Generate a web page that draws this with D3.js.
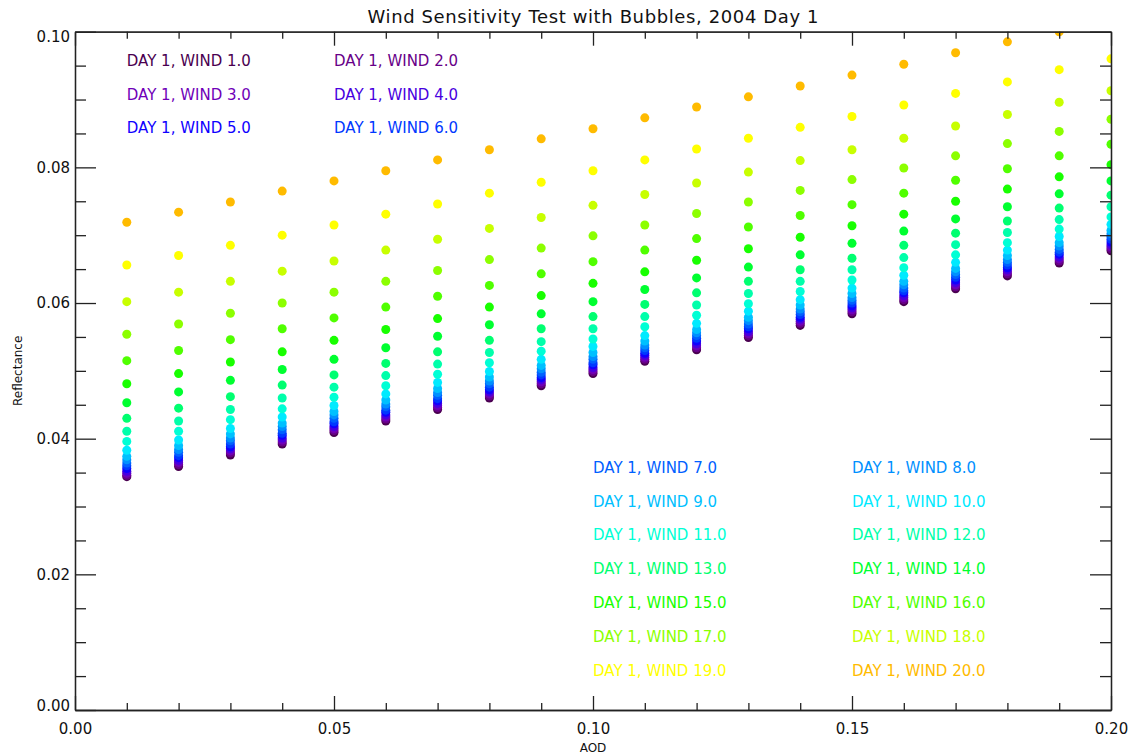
<!DOCTYPE html>
<html><head><meta charset="utf-8">
<script src="https://cdn.jsdelivr.net/npm/d3@7"></script>
<style>
body{margin:0;background:#fff;}
svg{display:block;}
text{font-family:"DejaVu Sans",sans-serif;}
</style>
</head><body>
<svg id="chart" width="1131" height="756"></svg>
<script>
const aod = [0.01,0.02,0.03,0.04,0.05,0.06,0.07,0.08,0.09,0.10,0.11,0.12,0.13,0.14,0.15,0.16,0.17,0.18,0.19,0.20];
const windSpeeds = [1,2,3,4,5,6,7,8,9,10,11,12,13,14,15,16,17,18,19,20];

const refl_w01 = [0.0344,0.0359,0.0376,0.0392,0.0409,0.0426,0.0443,0.0460,0.0478,0.0496,0.0514,0.0531,0.0549,0.0567,0.0584,0.0602,0.0621,0.0640,0.0659,0.0677];
const refl_w02 = [0.0346,0.0362,0.0379,0.0395,0.0412,0.0429,0.0446,0.0463,0.0481,0.0499,0.0517,0.0534,0.0552,0.0570,0.0587,0.0605,0.0624,0.0643,0.0662,0.0680];
const refl_w03 = [0.0349,0.0365,0.0382,0.0398,0.0415,0.0432,0.0449,0.0466,0.0484,0.0502,0.0520,0.0537,0.0555,0.0573,0.0590,0.0608,0.0627,0.0646,0.0665,0.0683];
const refl_w04 = [0.0352,0.0368,0.0385,0.0401,0.0418,0.0435,0.0452,0.0469,0.0487,0.0505,0.0523,0.0540,0.0558,0.0576,0.0593,0.0611,0.0630,0.0649,0.0668,0.0686];
const refl_w05 = [0.0356,0.0372,0.0388,0.0405,0.0422,0.0439,0.0456,0.0472,0.0490,0.0509,0.0526,0.0544,0.0562,0.0579,0.0596,0.0615,0.0634,0.0652,0.0672,0.0690];
const refl_w06 = [0.0360,0.0375,0.0392,0.0408,0.0425,0.0442,0.0459,0.0476,0.0494,0.0512,0.0530,0.0548,0.0565,0.0583,0.0600,0.0618,0.0638,0.0656,0.0675,0.0694];
const refl_w07 = [0.0364,0.0380,0.0397,0.0413,0.0430,0.0447,0.0464,0.0481,0.0498,0.0517,0.0534,0.0552,0.0569,0.0587,0.0604,0.0622,0.0642,0.0660,0.0679,0.0698];
const refl_w08 = [0.0369,0.0384,0.0401,0.0418,0.0435,0.0451,0.0468,0.0485,0.0503,0.0521,0.0538,0.0556,0.0574,0.0591,0.0608,0.0627,0.0646,0.0664,0.0684,0.0702];
const refl_w09 = [0.0374,0.0390,0.0407,0.0423,0.0440,0.0457,0.0474,0.0491,0.0508,0.0527,0.0544,0.0561,0.0579,0.0597,0.0614,0.0632,0.0651,0.0670,0.0689,0.0707];
const refl_w10 = [0.0383,0.0398,0.0415,0.0432,0.0449,0.0466,0.0483,0.0499,0.0517,0.0536,0.0552,0.0570,0.0588,0.0605,0.0622,0.0641,0.0660,0.0678,0.0698,0.0716];
const refl_w11 = [0.0396,0.0411,0.0428,0.0444,0.0461,0.0478,0.0495,0.0512,0.0529,0.0547,0.0565,0.0582,0.0599,0.0617,0.0634,0.0652,0.0671,0.0689,0.0709,0.0727];
const refl_w12 = [0.0411,0.0426,0.0443,0.0460,0.0476,0.0493,0.0510,0.0527,0.0543,0.0562,0.0580,0.0597,0.0614,0.0632,0.0649,0.0667,0.0686,0.0704,0.0723,0.0742];
const refl_w13 = [0.0430,0.0445,0.0462,0.0479,0.0494,0.0511,0.0528,0.0545,0.0562,0.0580,0.0598,0.0615,0.0632,0.0649,0.0666,0.0685,0.0703,0.0721,0.0740,0.0759];
const refl_w14 = [0.0453,0.0469,0.0486,0.0502,0.0517,0.0534,0.0551,0.0568,0.0584,0.0602,0.0620,0.0637,0.0653,0.0671,0.0688,0.0706,0.0724,0.0742,0.0761,0.0780];
const refl_w15 = [0.0481,0.0496,0.0513,0.0528,0.0545,0.0561,0.0577,0.0594,0.0611,0.0629,0.0646,0.0663,0.0680,0.0697,0.0714,0.0731,0.0750,0.0768,0.0786,0.0804];
const refl_w16 = [0.0515,0.0530,0.0546,0.0562,0.0578,0.0594,0.0610,0.0626,0.0643,0.0661,0.0678,0.0695,0.0712,0.0729,0.0745,0.0762,0.0781,0.0798,0.0817,0.0834];
const refl_w17 = [0.0554,0.0569,0.0585,0.0600,0.0616,0.0632,0.0648,0.0664,0.0681,0.0699,0.0715,0.0732,0.0749,0.0766,0.0782,0.0799,0.0817,0.0835,0.0853,0.0871];
const refl_w18 = [0.0602,0.0616,0.0632,0.0647,0.0662,0.0678,0.0694,0.0710,0.0726,0.0744,0.0760,0.0777,0.0793,0.0810,0.0826,0.0843,0.0861,0.0878,0.0896,0.0913];
const refl_w19 = [0.0656,0.0670,0.0685,0.0700,0.0715,0.0731,0.0746,0.0762,0.0778,0.0795,0.0811,0.0827,0.0843,0.0859,0.0875,0.0892,0.0909,0.0926,0.0944,0.0960];
const refl_w20 = [0.0719,0.0734,0.0749,0.0765,0.0780,0.0795,0.0811,0.0826,0.0842,0.0857,0.0873,0.0889,0.0904,0.0920,0.0936,0.0952,0.0969,0.0985,0.1000,0.1016];

const windColors = ["#4a0050","#680088","#7000b8","#4800e0","#1000ff","#0038ff","#0060ff","#0090ff","#00c0ff","#00eaff",
                    "#00ffd5","#00ffaa","#00ff70","#00ff30","#18ff00","#50ff00","#8cff00","#c8ff00","#ffff00","#ffbb00"];

const xMajorTicks = [0, 0.05, 0.10, 0.15, 0.20];
const xTickLabels = ["0.00","0.05","0.10","0.15","0.20"];
const yMajorTicks = [0, 0.02, 0.04, 0.06, 0.08, 0.10];
const yTickLabels = ["0.00","0.02","0.04","0.06","0.08","0.10"];
const titleText = "Wind Sensitivity Test with Bubbles, 2004 Day 1";
const xTitle = "AOD";
const yTitle = "Reflectance";

const series = [refl_w01,refl_w02,refl_w03,refl_w04,refl_w05,refl_w06,refl_w07,refl_w08,refl_w09,refl_w10,
                refl_w11,refl_w12,refl_w13,refl_w14,refl_w15,refl_w16,refl_w17,refl_w18,refl_w19,refl_w20];

const svg = d3.select("#chart");
const L = 75, R = 1111, T = 31.7, B = 710;
const x = d3.scaleLinear().domain([0, 0.2]).range([L, R]);
const y = d3.scaleLinear().domain([0, 0.1]).range([B, T]);
const ink = "#222";

svg.append("defs").append("clipPath").attr("id","plotclip")
  .append("rect").attr("x",L).attr("y",T).attr("width",R-L).attr("height",B-T);

// points
const plot = svg.append("g").attr("clip-path","url(#plotclip)");
series.forEach((vals, i) => {
  plot.append("g").selectAll("circle").data(vals).join("circle")
    .attr("cx", (d, j) => x(aod[j]))
    .attr("cy", d => y(d))
    .attr("r", 4.5)
    .attr("fill", windColors[i]);
});

// axes
const xMinor = d3.range(0, 21).map(k => k / 100).filter(v => !xMajorTicks.some(m => Math.abs(m - v) < 1e-9));
const yMinor = d3.range(0, 21).map(k => k * 0.005).filter(v => !yMajorTicks.some(m => Math.abs(m - v) < 1e-9));

function styleAxis(g) {
  g.select(".domain").attr("stroke", ink).attr("stroke-width", 1.3);
  g.selectAll(".tick line").attr("stroke", ink).attr("stroke-width", 1.3);
  g.selectAll(".tick text").attr("fill", "#111").style("font-family", '"DejaVu Sans",sans-serif').style("font-size", "15px");
}

const gx = svg.append("g").attr("transform", `translate(0,${B})`)
  .call(d3.axisBottom(x).tickValues(xMajorTicks).tickSize(-14).tickSizeOuter(0).tickPadding(13)
        .tickFormat((d, i) => xTickLabels[i]));
styleAxis(gx);
const gxm = svg.append("g").attr("transform", `translate(0,${B})`)
  .call(d3.axisBottom(x).tickValues(xMinor).tickSize(-7).tickSizeOuter(0).tickFormat(""));
styleAxis(gxm);

const gxt = svg.append("g").attr("transform", `translate(0,${T})`)
  .call(d3.axisTop(x).tickValues(xMajorTicks).tickSize(-14).tickSizeOuter(0).tickFormat(""));
styleAxis(gxt);
const gxtm = svg.append("g").attr("transform", `translate(0,${T})`)
  .call(d3.axisTop(x).tickValues(xMinor).tickSize(-7).tickSizeOuter(0).tickFormat(""));
styleAxis(gxtm);

const gy = svg.append("g").attr("transform", `translate(${L},0)`)
  .call(d3.axisLeft(y).tickValues(yMajorTicks).tickSize(-21).tickSizeOuter(0).tickPadding(5)
        .tickFormat((d, i) => yTickLabels[i]));
styleAxis(gy);
gy.selectAll(".tick text").attr("y", d => d >= 0.1 - 1e-9 ? 5 : (d <= 1e-9 ? -4 : 0));
const gym = svg.append("g").attr("transform", `translate(${L},0)`)
  .call(d3.axisLeft(y).tickValues(yMinor).tickSize(-11).tickSizeOuter(0).tickFormat(""));
styleAxis(gym);

const gyr = svg.append("g").attr("transform", `translate(${R},0)`)
  .call(d3.axisRight(y).tickValues(yMajorTicks).tickSize(-21).tickSizeOuter(0).tickFormat(""));
styleAxis(gyr);
const gyrm = svg.append("g").attr("transform", `translate(${R},0)`)
  .call(d3.axisRight(y).tickValues(yMinor).tickSize(-11).tickSizeOuter(0).tickFormat(""));
styleAxis(gyrm);

// legend labels placed in data coordinates
const legend = svg.append("g");
windSpeeds.forEach((w, i) => {
  let lx, ly;
  if (i < 6) { lx = (i % 2) ? 0.05 : 0.01; ly = 0.095 - 0.005 * Math.floor(i / 2); }
  else { const k = i - 6; lx = (k % 2) ? 0.15 : 0.10; ly = 0.035 - 0.005 * Math.floor(k / 2); }
  legend.append("text")
    .attr("x", x(lx)).attr("y", y(ly))
    .attr("fill", windColors[i])
    .style("font-size", "15px")
    .text(`DAY 1, WIND ${w.toFixed(1)}`);
});

// titles
svg.append("text").attr("x", (L + R) / 2).attr("y", 22.7)
  .attr("text-anchor", "middle").attr("fill", "#111")
  .attr("textLength", 451).attr("lengthAdjust", "spacing")
  .style("font-size", "18px").text(titleText);

svg.append("text").attr("x", (L + R) / 2).attr("y", 752)
  .attr("text-anchor", "middle").attr("fill", "#111")
  .style("font-size", "12px").text(xTitle);

svg.append("text").attr("transform", `translate(22,${(T + B) / 2}) rotate(-90)`)
  .attr("text-anchor", "middle").attr("fill", "#111")
  .style("font-size", "12px").text(yTitle);
</script>
</body></html>
